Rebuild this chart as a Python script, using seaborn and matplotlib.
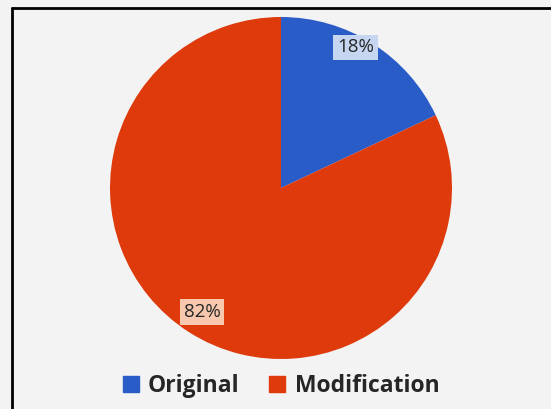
import numpy as np
import matplotlib.pyplot as plt
import matplotlib.patches as mpatches
import seaborn as sns

# datos del grafico
categories = ['Original', 'Modification']
shares = [18, 82]
colors = ['#2a5cc8', '#de3a0c']
label_fills = ['#c6d6f0', '#f7c8ad']
label_dist = [0.93, 0.86]

sns.set_theme(style='white')
plt.rcParams['font.family'] = ['Open Sans', 'DejaVu Sans']

fig = plt.figure(figsize=(5.51, 4.09), dpi=100, facecolor='#f3f3f3')

# marco negro (arriba e izquierda)
fig.add_artist(plt.Line2D([12 / 551, 12 / 551], [0, 1 - 8 / 409], transform=fig.transFigure,
                          color='black', lw=2))
fig.add_artist(plt.Line2D([12 / 551, 1], [1 - 8 / 409, 1 - 8 / 409], transform=fig.transFigure,
                          color='black', lw=2))

ax = fig.add_axes([110 / 551, 50 / 409, 342 / 551, 342 / 409])
ax.set_facecolor('none')

wedges, texts, autotexts = ax.pie(shares, colors=colors, startangle=90, counterclock=False,
                                  autopct='%d%%', pctdistance=0.9,
                                  wedgeprops=dict(linewidth=0),
                                  textprops=dict(fontsize=13.5, color='#262626'))

for w, t, fill, d in zip(wedges, autotexts, label_fills, label_dist):
    ang = np.deg2rad((w.theta1 + w.theta2) / 2)
    if w.theta1 > 0:
        ang = np.deg2rad((w.theta1 + w.theta2) / 2 + 4.5)
    t.set_position((d * np.cos(ang), d * np.sin(ang)))
    t.set_bbox(dict(boxstyle='square,pad=0.2', facecolor=fill, edgecolor='none'))

ax.set_xlim(-1, 1)
ax.set_ylim(-1, 1)
ax.set_aspect('equal')
ax.axis('off')

handles = [mpatches.Patch(color=c, label=l) for c, l in zip(colors, categories)]
fig.legend(handles=handles, loc='center', bbox_to_anchor=(0.51, 23 / 409), ncol=2,
           frameon=False, handlelength=0.7, handleheight=0.7, handletextpad=0.4,
           columnspacing=1.3, prop=dict(weight='bold', size=16.5))

fig.savefig('out.png', dpi=100, facecolor=fig.get_facecolor())
